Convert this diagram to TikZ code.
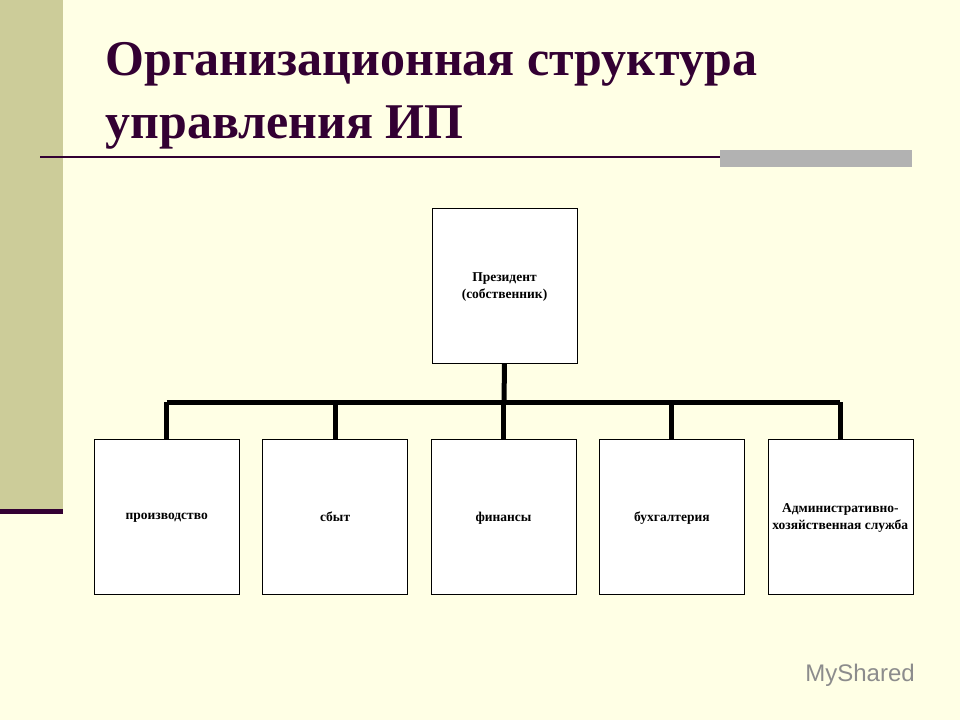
\documentclass[tikz,border=0pt]{standalone}
\usepackage{fontspec}
\setmainfont{Liberation Serif}
\newfontfamily\logofont{Liberation Sans}
\usetikzlibrary{positioning}
\definecolor{bgcream}{HTML}{FFFFE5}
\definecolor{barolive}{HTML}{CCCC99}
\definecolor{titlepurple}{HTML}{330033}
\tikzset{
	unit/.style={draw=black, fill=white, minimum width=145pt, minimum height=155pt, inner sep=0pt, align=center, text depth=0pt, font=\fontsize{13.5}{17}\selectfont\bfseries}, % boxes of the chart
	link/.style={line width=5pt}, % thick connectors
}
\begin{document}
\begin{tikzpicture}[x=1pt, y=-1pt]
        % background and decoration
        \fill[bgcream] (0,0) rectangle (960,720);
        \useasboundingbox (0,0) rectangle (960,720);
        \fill[barolive] (0,0) rectangle (63,510);
        \fill[titlepurple] (0,509) rectangle (63,514);
        \draw[titlepurple, line width=1.5pt] (40,157) -- (912,157);
        \fill[black!30] (720,150) rectangle (912,167);
        \node[anchor=west, text=titlepurple, align=left, font=\fontsize{50}{63}\selectfont\bfseries] (title) at (102,96)
            {Организационная структура\\управления ИП};

        % chart
        \node[unit] (pres) at (504.5,285.5) {Президент\\(собственник)};
        \node[unit] (fin) at (503.5,516.5) {финансы};
        \node[unit, left=23pt of fin] (sales) {сбыт};
        \node[unit, left=23pt of sales] (prod) {производство};
        \node[unit, right=23pt of fin] (acc) {бухгалтерия};
        \node[unit, right=23pt of acc] (adm) {Административно-\\хозяйственная служба};
        \coordinate (bus) at (504,402);

        \draw[link] (pres.south) -- (bus);
        \draw[link] (prod.north |- bus) -- (adm.north |- bus);
        \foreach \u in {prod, sales, fin, acc, adm}
            \draw[link] (\u.north |- bus) -- (\u.north);

        % watermark
        \node[text=black!45, font=\logofont\fontsize{24}{24}\selectfont] (logo) at (860,675) {MyShared};
\end{tikzpicture}
\end{document}
